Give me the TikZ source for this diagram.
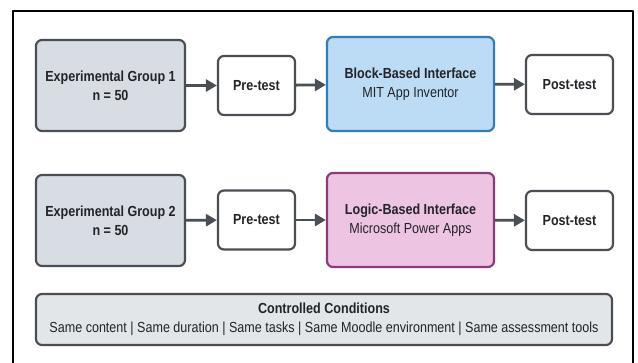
\documentclass[tikz,border=0pt]{standalone}
\usepackage{fontspec}
\setmainfont{Liberation Sans}[FakeStretch=0.86]
\usetikzlibrary{arrows.meta}
\usetikzlibrary{positioning}
\definecolor{edgegray}{HTML}{4A4F55}
\definecolor{groupfill}{HTML}{D8DDE4}
\definecolor{blockfill}{HTML}{BCDCF5}
\definecolor{blockedge}{HTML}{2F7DC0}
\definecolor{logicfill}{HTML}{EDC4E2}
\definecolor{logicedge}{HTML}{8C3A7C}
\definecolor{condfill}{HTML}{E3E6E9}
\definecolor{txt}{HTML}{222428}
\begin{document}
\begin{tikzpicture}[line cap=round,line join=round,>={Triangle[length=11pt,width=12pt]},x=1pt,y=-1pt,
  box/.style={draw=edgegray,line width=2.2pt,rounded corners=6pt,align=center,
    text=txt,inner sep=2pt,font=\fontsize{14.6}{19}\selectfont},
  groupbox/.style={box,fill=groupfill,minimum width=149pt,minimum height=91pt},
  testbox/.style={box,fill=white,minimum height=59pt},
  blockbox/.style={box,fill=blockfill,draw=blockedge,minimum width=167pt,minimum height=94pt},
  logicbox/.style={box,fill=logicfill,draw=logicedge,minimum width=167pt,minimum height=94pt},
  flow/.style={->,draw=edgegray,line width=2.8pt,line cap=butt}]
\useasboundingbox (0,0) rectangle (638,363);
\fill[white] (0,0) rectangle (638,363);
% outer frame, open at the bottom
\draw[black,line width=2.6pt,line cap=butt] (13,380) -- (13,11) -- (633,11) -- (633,380);
% first row
\node[groupbox] (grpA) at (110.5,85.5) {\textbf{Experimental Group 1}\\\textbf{n = 50}};
\node[testbox,minimum width=77pt] (preA) at (256.5,85.5) {\textbf{Pre-test}};
\node[blockbox] (ifaceA) at (410.5,84) {\textbf{Block-Based Interface}\\MIT App Inventor};
\node[testbox,minimum width=87pt] (postA) at (569.5,84.5) {\textbf{Post-test}};
% second row
\node[groupbox] (grpB) at (110.5,220.5) {\textbf{Experimental Group 2}\\\textbf{n = 50}};
\node[testbox,minimum width=77pt] (preB) at (256.5,220) {\textbf{Pre-test}};
\node[logicbox] (ifaceB) at (410.5,220) {\textbf{Logic-Based Interface}\\Microsoft Power Apps};
\node[testbox,minimum width=87pt] (postB) at (569.5,220.5) {\textbf{Post-test}};
% conditions
\node[box,fill=condfill,minimum width=576pt,minimum height=51pt] (cond) at (324,319.5)
  {\textbf{Controlled Conditions}\\Same content | Same duration | Same tasks | Same Moodle environment | Same assessment tools};
\foreach \r in {A,B}
{
\draw[flow] (grp\r) -- (pre\r);
\draw[flow] (pre\r) -- (iface\r);
\draw[flow] (iface\r) -- (post\r);
}
\end{tikzpicture}
\end{document}
